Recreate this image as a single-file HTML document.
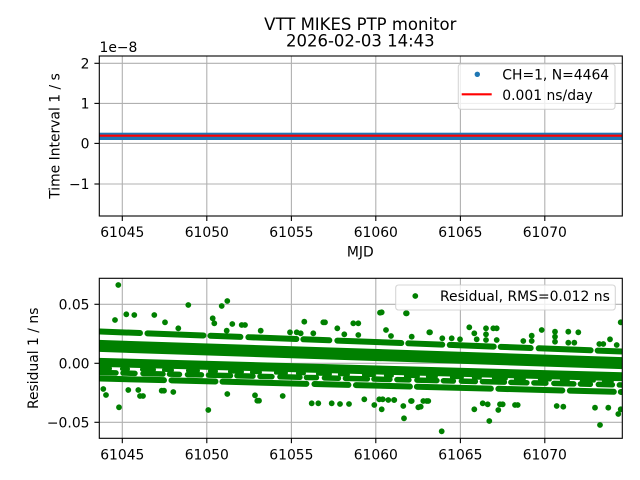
<!DOCTYPE html>
<html><head><meta charset="utf-8"><style>
html,body{margin:0;padding:0;background:#fff;}
svg{display:block;}
text{font-family:"DejaVu Sans","Liberation Sans",sans-serif;fill:#000;}
</style></head><body>
<svg width="640" height="480" viewBox="0 0 640 480" xmlns="http://www.w3.org/2000/svg">
<defs>
<clipPath id="c1"><rect x="99.3" y="56" width="523" height="160"/></clipPath>
<clipPath id="c2"><rect x="99.3" y="278.3" width="523" height="160"/></clipPath>
</defs>
<rect width="640" height="480" fill="#fff"/>
<!-- Title -->
<text x="360.3" y="30" font-size="16.5" text-anchor="middle">VTT MIKES PTP monitor</text>
<text x="360.3" y="46.5" font-size="16.5" text-anchor="middle">2026-02-03 14:43</text>

<!-- TOP AXES -->
<g stroke="#b0b0b0" stroke-width="1.1">
<line x1="122.3" y1="56" x2="122.3" y2="216"/>
<line x1="206.8" y1="56" x2="206.8" y2="216"/>
<line x1="291.4" y1="56" x2="291.4" y2="216"/>
<line x1="375.8" y1="56" x2="375.8" y2="216"/>
<line x1="460.4" y1="56" x2="460.4" y2="216"/>
<line x1="544.8" y1="56" x2="544.8" y2="216"/>
<line x1="99.3" y1="63.3" x2="622.3" y2="63.3"/>
<line x1="99.3" y1="103.4" x2="622.3" y2="103.4"/>
<line x1="99.3" y1="143.4" x2="622.3" y2="143.4"/>
<line x1="99.3" y1="184" x2="622.3" y2="184"/>
</g>
<g clip-path="url(#c1)">
<rect x="96" y="132.7" width="530" height="7.3" fill="#1f77b4"/>
<line x1="96" y1="135.7" x2="626" y2="135.7" stroke="#ff0000" stroke-width="2.1"/>
</g>
<rect x="99.3" y="56" width="523" height="160" fill="none" stroke="#000" stroke-width="1.1"/>
<g stroke="#000" stroke-width="1.1">
<line x1="122.3" y1="216" x2="122.3" y2="221"/>
<line x1="206.8" y1="216" x2="206.8" y2="221"/>
<line x1="291.4" y1="216" x2="291.4" y2="221"/>
<line x1="375.8" y1="216" x2="375.8" y2="221"/>
<line x1="460.4" y1="216" x2="460.4" y2="221"/>
<line x1="544.8" y1="216" x2="544.8" y2="221"/>
<line x1="94.4" y1="63.3" x2="99.3" y2="63.3"/>
<line x1="94.4" y1="103.4" x2="99.3" y2="103.4"/>
<line x1="94.4" y1="143.4" x2="99.3" y2="143.4"/>
<line x1="94.4" y1="184" x2="99.3" y2="184"/>
</g>
<g font-size="13.9" text-anchor="middle">
<text x="122.3" y="237">61045</text>
<text x="206.8" y="237">61050</text>
<text x="291.4" y="237">61055</text>
<text x="375.8" y="237">61060</text>
<text x="460.4" y="237">61065</text>
<text x="544.8" y="237">61070</text>
</g>
<g font-size="13.9" text-anchor="end">
<text x="89.5" y="68.4">2</text>
<text x="89.5" y="108.5">1</text>
<text x="89.5" y="148.5">0</text>
<text x="89.5" y="189.1">−1</text>
</g>
<text x="99.5" y="52" font-size="13.9">1e−8</text>
<text x="360.3" y="256.5" font-size="13.9" text-anchor="middle">MJD</text>
<text transform="translate(59.5,136) rotate(-90)" font-size="13.9" text-anchor="middle">Time Interval 1 / s</text>
<!-- top legend -->
<rect x="458.3" y="64" width="156.7" height="45.3" rx="2.8" fill="rgba(255,255,255,0.8)" stroke="#cccccc" stroke-opacity="0.8" stroke-width="1.1"/>
<circle cx="477.3" cy="74.3" r="2.7" fill="#1f77b4"/>
<text x="502.3" y="79.3" font-size="13.9">CH=1, N=4464</text>
<line x1="461.7" y1="94.3" x2="491.7" y2="94.3" stroke="#ff0000" stroke-width="2.1"/>
<text x="502.3" y="100" font-size="13.9">0.001 ns/day</text>

<!-- BOTTOM AXES -->
<g stroke="#b0b0b0" stroke-width="1.1">
<line x1="122.3" y1="278.3" x2="122.3" y2="438.3"/>
<line x1="206.8" y1="278.3" x2="206.8" y2="438.3"/>
<line x1="291.4" y1="278.3" x2="291.4" y2="438.3"/>
<line x1="375.8" y1="278.3" x2="375.8" y2="438.3"/>
<line x1="460.4" y1="278.3" x2="460.4" y2="438.3"/>
<line x1="544.8" y1="278.3" x2="544.8" y2="438.3"/>
<line x1="99.3" y1="304.3" x2="622.3" y2="304.3"/>
<line x1="99.3" y1="363.3" x2="622.3" y2="363.3"/>
<line x1="99.3" y1="422.3" x2="622.3" y2="422.3"/>
</g>
<g clip-path="url(#c2)" fill="#008000" stroke="#008000" stroke-linecap="round">
<!-- band A -->
<line x1="100" y1="331.5" x2="622" y2="351.5" stroke-width="6" stroke-dasharray="40 7.5 56 7 30 8 48 7 26 8 64 7 34 7.5 44 7 30 8 52 7"/>
<!-- band B -->
<line x1="96" y1="345.8" x2="626" y2="363.2" stroke-width="12" stroke-linecap="butt"/>
<!-- band C -->
<line x1="96" y1="362.3" x2="626" y2="376.8" stroke-width="9" stroke-linecap="butt"/>
<!-- between C and D1 partial -->
<line x1="100" y1="368.3" x2="622" y2="381.3" stroke-width="4" stroke-dasharray="10 12 6 14 12 10 8 16"/>
<!-- band D1 -->
<line x1="100" y1="372.5" x2="622" y2="385" stroke-width="5.5" stroke-dasharray="16 7 12 8 20 6.5 10 8 14 7 22 6.5"/>
<!-- band D2 -->
<line x1="100" y1="378.5" x2="622" y2="392" stroke-width="6" stroke-dasharray="64 7.5 44 7 84 8 34 7.5 54 7 74 7.5"/>
<g stroke="none">
<circle cx="118.3" cy="285" r="2.9"/><circle cx="115" cy="320" r="2.9"/><circle cx="126.3" cy="314.3" r="2.9"/>
<circle cx="134.3" cy="315" r="2.9"/><circle cx="154.3" cy="315" r="2.9"/><circle cx="165" cy="322.3" r="2.9"/>
<circle cx="178.3" cy="328.3" r="2.9"/><circle cx="188.3" cy="305" r="2.9"/><circle cx="103.3" cy="389" r="2.9"/>
<circle cx="106" cy="395" r="2.9"/><circle cx="119" cy="407.3" r="2.9"/><circle cx="128.3" cy="390" r="2.9"/>
<circle cx="138.3" cy="390" r="2.9"/><circle cx="140" cy="396" r="2.9"/><circle cx="143" cy="396" r="2.9"/>
<circle cx="161.7" cy="390.7" r="2.9"/><circle cx="164" cy="390.7" r="2.9"/><circle cx="173.3" cy="392" r="2.9"/>
<circle cx="208.3" cy="410" r="2.9"/><circle cx="212.7" cy="318.3" r="2.9"/><circle cx="214.3" cy="323.3" r="2.9"/>
<circle cx="221.7" cy="306" r="2.9"/><circle cx="227.3" cy="301" r="2.9"/><circle cx="226.7" cy="330.7" r="2.9"/>
<circle cx="227.3" cy="394" r="2.9"/><circle cx="232.3" cy="324" r="2.9"/><circle cx="241.7" cy="325" r="2.9"/>
<circle cx="245" cy="325" r="2.9"/><circle cx="260.7" cy="330.7" r="2.9"/><circle cx="255" cy="395.3" r="2.9"/>
<circle cx="257.3" cy="400.7" r="2.9"/><circle cx="259" cy="400.7" r="2.9"/>
<circle cx="304.3" cy="321.7" r="2.9"/><circle cx="323.3" cy="322.3" r="2.9"/><circle cx="325" cy="322.3" r="2.9"/>
<circle cx="337.3" cy="328.3" r="2.9"/><circle cx="353.3" cy="323.3" r="2.9"/><circle cx="358.3" cy="323.3" r="2.9"/>
<circle cx="344.3" cy="334.3" r="2.9"/><circle cx="358.3" cy="335" r="2.9"/><circle cx="313.3" cy="333.3" r="2.9"/>
<circle cx="290" cy="332.3" r="2.9"/><circle cx="296.7" cy="332.3" r="2.9"/><circle cx="300.7" cy="333.3" r="2.9"/>
<circle cx="380" cy="312.7" r="2.9"/><circle cx="406" cy="313.3" r="2.9"/><circle cx="386" cy="330" r="2.9"/>
<circle cx="391" cy="336" r="2.9"/><circle cx="411.7" cy="336.7" r="2.9"/><circle cx="429.3" cy="332.3" r="2.9"/>
<circle cx="442.3" cy="338.3" r="2.9"/><circle cx="282.7" cy="396" r="2.9"/><circle cx="311.7" cy="403.3" r="2.9"/>
<circle cx="318.3" cy="403.3" r="2.9"/><circle cx="331.7" cy="403.3" r="2.9"/><circle cx="340" cy="404" r="2.9"/>
<circle cx="349" cy="404" r="2.9"/><circle cx="364.3" cy="399.3" r="2.9"/><circle cx="374.3" cy="405" r="2.9"/>
<circle cx="379.3" cy="399.3" r="2.9"/><circle cx="388.3" cy="400" r="2.9"/><circle cx="394.3" cy="400" r="2.9"/>
<circle cx="403.3" cy="406" r="2.9"/><circle cx="411" cy="401" r="2.9"/><circle cx="418.3" cy="407.3" r="2.9"/>
<circle cx="423.3" cy="401" r="2.9"/><circle cx="426.7" cy="401" r="2.9"/><circle cx="381.7" cy="409.3" r="2.9"/>
<circle cx="381.7" cy="312.3" r="2.9"/><circle cx="406.7" cy="313.3" r="2.9"/><circle cx="430" cy="332.3" r="2.9"/>
<circle cx="451.7" cy="338.3" r="2.9"/><circle cx="460" cy="339.3" r="2.9"/><circle cx="469.3" cy="327.3" r="2.9"/>
<circle cx="474.3" cy="333.3" r="2.9"/><circle cx="476.7" cy="339.3" r="2.9"/><circle cx="486" cy="328.3" r="2.9"/>
<circle cx="486" cy="334.3" r="2.9"/><circle cx="486" cy="340" r="2.9"/><circle cx="493.3" cy="328.3" r="2.9"/>
<circle cx="496.7" cy="328.3" r="2.9"/><circle cx="496.7" cy="340" r="2.9"/><circle cx="523.3" cy="341" r="2.9"/>
<circle cx="531.7" cy="335.7" r="2.9"/><circle cx="531.7" cy="341" r="2.9"/><circle cx="541.7" cy="330" r="2.9"/>
<circle cx="555" cy="331.7" r="2.9"/><circle cx="555" cy="336.7" r="2.9"/><circle cx="555" cy="341.7" r="2.9"/>
<circle cx="568.3" cy="331.7" r="2.9"/><circle cx="578.3" cy="332.3" r="2.9"/><circle cx="568.3" cy="342.7" r="2.9"/>
<circle cx="574.3" cy="342.7" r="2.9"/><circle cx="599.3" cy="344" r="2.9"/><circle cx="610" cy="339.3" r="2.9"/>
<circle cx="603.3" cy="344" r="2.9"/><circle cx="616.7" cy="345" r="2.9"/><circle cx="620.7" cy="322.3" r="2.9"/>
<circle cx="382.7" cy="399.3" r="2.9"/><circle cx="394" cy="400" r="2.9"/><circle cx="411.7" cy="401" r="2.9"/>
<circle cx="404" cy="418.3" r="2.9"/><circle cx="420.7" cy="406.7" r="2.9"/><circle cx="428.3" cy="401" r="2.9"/>
<circle cx="441.7" cy="431.3" r="2.9"/><circle cx="474.3" cy="409.3" r="2.9"/><circle cx="482.7" cy="403.3" r="2.9"/>
<circle cx="487.7" cy="404.3" r="2.9"/><circle cx="489.3" cy="421" r="2.9"/><circle cx="498.3" cy="410" r="2.9"/>
<circle cx="500" cy="404.3" r="2.9"/><circle cx="502.7" cy="404.3" r="2.9"/><circle cx="515" cy="405" r="2.9"/>
<circle cx="517.7" cy="405" r="2.9"/><circle cx="556.7" cy="406" r="2.9"/><circle cx="563.3" cy="406.7" r="2.9"/>
<circle cx="595" cy="407.7" r="2.9"/><circle cx="600" cy="425" r="2.9"/><circle cx="608.3" cy="407.7" r="2.9"/>
<circle cx="618.3" cy="414" r="2.9"/><circle cx="620.7" cy="409.3" r="2.9"/>
</g>
</g>
<rect x="99.3" y="278.3" width="523" height="160" fill="none" stroke="#000" stroke-width="1.1"/>
<g stroke="#000" stroke-width="1.1">
<line x1="122.3" y1="438.3" x2="122.3" y2="443.2"/>
<line x1="206.8" y1="438.3" x2="206.8" y2="443.2"/>
<line x1="291.4" y1="438.3" x2="291.4" y2="443.2"/>
<line x1="375.8" y1="438.3" x2="375.8" y2="443.2"/>
<line x1="460.4" y1="438.3" x2="460.4" y2="443.2"/>
<line x1="544.8" y1="438.3" x2="544.8" y2="443.2"/>
<line x1="94.4" y1="304.3" x2="99.3" y2="304.3"/>
<line x1="94.4" y1="363.3" x2="99.3" y2="363.3"/>
<line x1="94.4" y1="422.3" x2="99.3" y2="422.3"/>
</g>
<g font-size="13.9" text-anchor="middle">
<text x="122.3" y="459.4">61045</text>
<text x="206.8" y="459.4">61050</text>
<text x="291.4" y="459.4">61055</text>
<text x="375.8" y="459.4">61060</text>
<text x="460.4" y="459.4">61065</text>
<text x="544.8" y="459.4">61070</text>
</g>
<g font-size="13.9" text-anchor="end">
<text x="89.5" y="309.4">0.05</text>
<text x="89.5" y="368.4">0.00</text>
<text x="89.5" y="427.4">−0.05</text>
</g>
<text transform="translate(37.8,358.3) rotate(-90)" font-size="13.9" text-anchor="middle">Residual 1 / ns</text>
<!-- bottom legend -->
<rect x="395.7" y="285" width="219.6" height="25" rx="2.8" fill="rgba(255,255,255,0.8)" stroke="#cccccc" stroke-opacity="0.8" stroke-width="1.1"/>
<circle cx="415.3" cy="296" r="2.9" fill="#008000"/>
<text x="440" y="301" font-size="13.9">Residual, RMS=0.012 ns</text>
</svg>
</body></html>
